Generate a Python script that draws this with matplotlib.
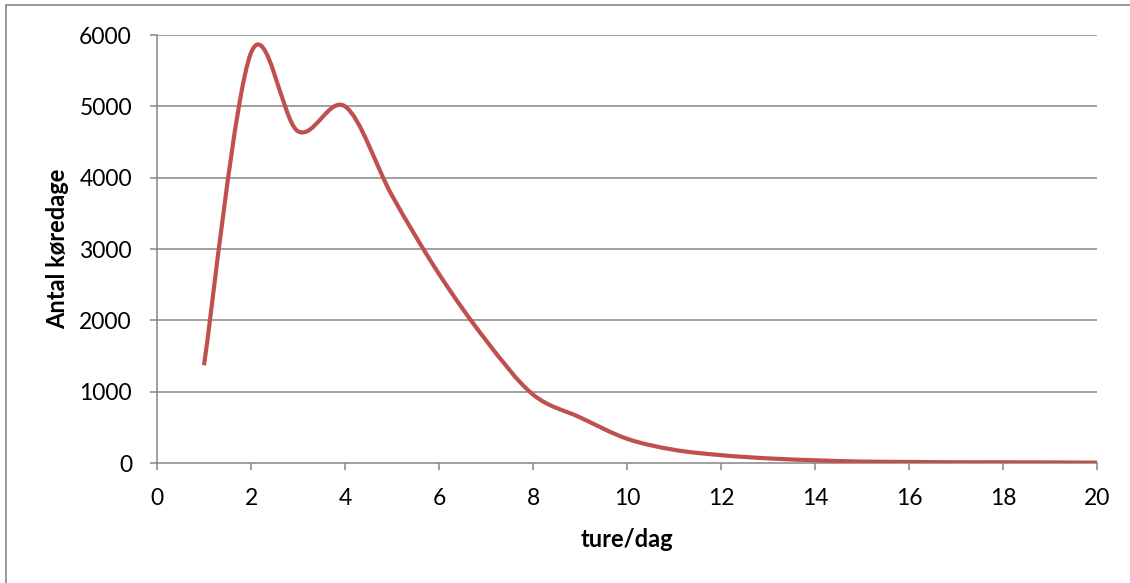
import matplotlib.pyplot as plt
from matplotlib.path import Path
from matplotlib.patches import PathPatch, Rectangle

# antal køredage fordelt på ture pr. dag
ture = [1, 2, 3, 4, 5, 6, 7, 8, 9, 10, 11, 12, 13, 14, 15, 16, 17, 18, 19, 20]
dage = [1370, 5750, 4650, 5000, 3750, 2650, 1720, 960, 640, 340,
        185, 110, 65, 38, 20, 15, 10, 10, 8, 5]

x_ticks = [0, 2, 4, 6, 8, 10, 12, 14, 16, 18, 20]
y_ticks = [0, 1000, 2000, 3000, 4000, 5000, 6000]

grey = '#868686'
red = '#C0504D'

plt.rcParams['font.family'] = ['Lato', 'DejaVu Sans']


def smooth_path(xs, ys):
    # udglattet linje som i Excel: bezier-kurver med catmull-rom tangenter
    n = len(xs)
    verts = [(xs[0], ys[0])]
    codes = [Path.MOVETO]
    for i in range(n - 1):
        p0 = max(i - 1, 0)
        p3 = min(i + 2, n - 1)
        c1 = (xs[i] + (xs[i + 1] - xs[p0]) / 6, ys[i] + (ys[i + 1] - ys[p0]) / 6)
        c2 = (xs[i + 1] - (xs[p3] - xs[i]) / 6, ys[i + 1] - (ys[p3] - ys[i]) / 6)
        verts += [c1, c2, (xs[i + 1], ys[i + 1])]
        codes += [Path.CURVE4] * 3
    return Path(verts, codes)


fig = plt.figure(figsize=(11.30, 5.83), dpi=100)
ax = fig.add_axes([157 / 1130, 120 / 583, 940 / 1130, 428 / 583])

# ramme rundt om diagrammet
fig.patches.append(Rectangle((6 / 1130, -0.1), 1.2, 1.1 - 5 / 583,
                             transform=fig.transFigure, fill=False,
                             edgecolor=grey, linewidth=1.2))

for v in y_ticks[1:]:
    ax.axhline(v, color=grey, linewidth=1.1, zorder=1)

ax.add_patch(PathPatch(smooth_path(ture, dage), fill=False, edgecolor=red,
                       linewidth=3, capstyle='butt', joinstyle='round', zorder=3))

ax.set_xlim(0, 20)
ax.set_ylim(0, 6000)
ax.set_xticks(x_ticks)
ax.set_yticks(y_ticks)

for side in ['top', 'right']:
    ax.spines[side].set_visible(False)
for side in ['left', 'bottom']:
    ax.spines[side].set_color(grey)
    ax.spines[side].set_linewidth(1.1)

ax.tick_params(axis='both', direction='out', length=5, width=1.1, color=grey,
               labelsize=16.5, labelcolor='black')
ax.tick_params(axis='y', pad=13)
ax.tick_params(axis='x', pad=13)

ax.set_xlabel('ture/dag', fontsize=17, fontweight='bold', labelpad=14)
ax.set_ylabel('Antal køredage', fontsize=17, fontweight='bold', labelpad=7)

plt.savefig('out.png', dpi=100)
